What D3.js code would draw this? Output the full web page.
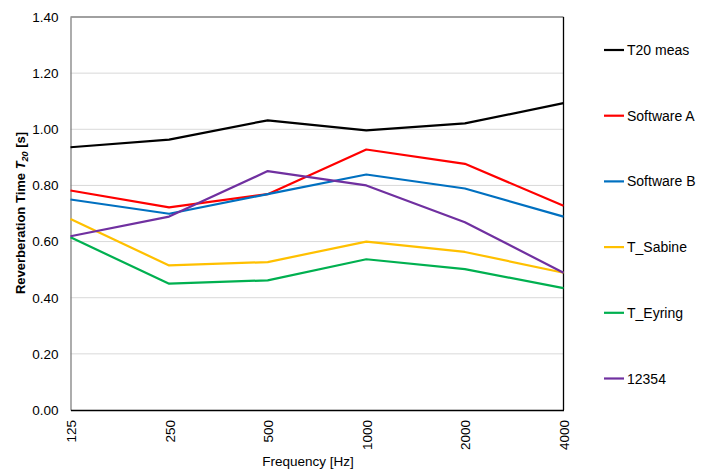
<!DOCTYPE html>
<html>
<head>
<meta charset="utf-8">
<script src="https://cdn.jsdelivr.net/npm/d3@7"></script>
<style>
  html, body { margin: 0; padding: 0; background: #fff; }
  svg { display: block; font-family: "Liberation Sans", Arial, sans-serif; }
</style>
</head>
<body>
<svg id="chart" width="712" height="471"></svg>
<script>
// Octave-band centre frequencies
const frequencies = ["125", "250", "500", "1000", "2000", "4000"];

// Reverberation time per band [s]
const t20Meas   = [0.936, 0.963, 1.032, 0.996, 1.021, 1.093];
const softwareA = [0.782, 0.722, 0.769, 0.928, 0.877, 0.728];
const softwareB = [0.750, 0.699, 0.769, 0.839, 0.789, 0.689];
const tSabine   = [0.680, 0.515, 0.527, 0.600, 0.563, 0.489];
const tEyring   = [0.615, 0.450, 0.462, 0.537, 0.502, 0.434];
const s12354    = [0.619, 0.689, 0.851, 0.800, 0.669, 0.489];

const seriesNames  = ["T20 meas", "Software A", "Software B", "T_Sabine", "T_Eyring", "12354"];
const seriesValues = [t20Meas, softwareA, softwareB, tSabine, tEyring, s12354];
const seriesColors = ["#000000", "#ff0000", "#0070c0", "#ffc000", "#00b050", "#7030a0"];

const yTicks = [0, 0.2, 0.4, 0.6, 0.8, 1.0, 1.2, 1.4];

const svg = d3.select("#chart");
const plot = { left: 70.5, right: 563.5, top: 17, bottom: 410 };

const x = d3.scalePoint().domain(frequencies).range([plot.left, plot.right]);
const y = d3.scaleLinear().domain([0, 1.4]).range([plot.bottom, plot.top]);

// Horizontal gridlines
svg.append("g")
  .selectAll("line")
  .data(yTicks.slice(1, -1))
  .join("line")
  .attr("x1", plot.left).attr("x2", plot.right)
  .attr("y1", d => y(d)).attr("y2", d => y(d))
  .attr("stroke", "#d9d9d9").attr("stroke-width", 1);

// Plot area frame
svg.append("line").attr("x1", plot.left).attr("x2", plot.right)
  .attr("y1", plot.top).attr("y2", plot.top).attr("stroke", "#808080").attr("stroke-width", 1.3);
svg.append("line").attr("x1", plot.right).attr("x2", plot.right)
  .attr("y1", plot.top).attr("y2", plot.bottom).attr("stroke", "#000").attr("stroke-width", 1.3);

// Y axis
const yAxis = svg.append("g")
  .attr("transform", `translate(${plot.left},0)`)
  .call(d3.axisLeft(y).tickValues(yTicks).tickFormat(d3.format(".2f")).tickSize(0).tickPadding(12));
yAxis.select(".domain").attr("stroke", "#808080").attr("stroke-width", 1.3);
yAxis.selectAll("text").attr("font-size", 13.5).attr("fill", "#000")
  .attr("font-family", "Liberation Sans, Arial, sans-serif");

// X axis
const xAxis = svg.append("g")
  .attr("transform", `translate(0,${plot.bottom})`)
  .call(d3.axisBottom(x).tickSize(0).tickPadding(0));
xAxis.select(".domain").attr("stroke", "#000").attr("stroke-width", 1.3);
xAxis.selectAll("text")
  .attr("font-size", 13.5).attr("fill", "#000")
  .attr("font-family", "Liberation Sans, Arial, sans-serif")
  .attr("text-anchor", "end")
  .attr("dy", null)
  .attr("y", 0)
  .attr("transform", "translate(5,10) rotate(-90)");

// Axis titles
svg.append("text")
  .attr("x", 308).attr("y", 466)
  .attr("text-anchor", "middle").attr("font-size", 13.5)
  .text("Frequency [Hz]");

const yTitle = svg.append("text")
  .attr("transform", "translate(25,213) rotate(-90)")
  .attr("text-anchor", "middle").attr("font-size", 13).attr("font-weight", "bold");
yTitle.append("tspan").text("Reverberation Time ");
yTitle.append("tspan").attr("font-style", "italic").text("T");
yTitle.append("tspan").attr("font-size", 9).attr("dy", 3).attr("font-style", "italic").text("20");
yTitle.append("tspan").attr("dy", -3).text(" [s]");

// Series lines
const line = d3.line()
  .x((d, i) => x(frequencies[i]))
  .y(d => y(d));

svg.append("g")
  .selectAll("path")
  .data(seriesValues)
  .join("path")
  .attr("d", d => line(d))
  .attr("fill", "none")
  .attr("stroke", (d, i) => seriesColors[i])
  .attr("stroke-width", 2.2)
  .attr("stroke-linejoin", "round");

// Legend
const legend = svg.append("g")
  .selectAll("g")
  .data(seriesNames)
  .join("g")
  .attr("transform", (d, i) => `translate(604,${50 + i * 65.7})`);
legend.append("line")
  .attr("x1", 0).attr("x2", 20).attr("y1", 0).attr("y2", 0)
  .attr("stroke", (d, i) => seriesColors[i]).attr("stroke-width", 2.2);
legend.append("text")
  .attr("x", 23).attr("y", 5).attr("font-size", 14)
  .text(d => d);
</script>
</body>
</html>
